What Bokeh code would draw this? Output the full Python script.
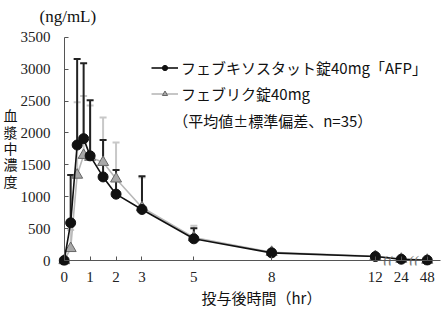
from bokeh.plotting import figure
from bokeh.models import (ColumnDataSource, Whisker, TeeHead, Legend, LegendItem,
                          Label, FixedTicker, Range1d, LinearAxis, Title)
from bokeh.core.properties import value
from bokeh.embed import file_html
from bokeh.resources import INLINE

# ---- data ----
times = [0, 0.25, 0.5, 0.75, 1, 1.5, 2, 3, 5, 8, 12, 24, 48]
afp_mean = [0, 590, 1810, 1910, 1640, 1310, 1040, 800, 340, 120, 62, 20, 5]
afp_sd = [0, 750, 1350, 1180, 870, 580, 380, 520, 165, 35, 20, 8, 3]
ref_mean = [0, 190, 1340, 1650, 1620, 1540, 1280, 830, 360, 130, 65, 22, 6]
ref_sd = [0, 290, 1140, 930, 810, 700, 570, 470, 185, 40, 20, 8, 2]
tick_times = [0, 1, 2, 3, 5, 8, 12, 24, 48]
y_ticks = [0, 500, 1000, 1500, 2000, 2500, 3000, 3500]
name_afp = "フェブキソスタット錠40mg「AFP」"
name_ref = "フェブリク錠40mg"
note = "（平均値±標準偏差、n=35）"
y_title = "血漿中濃度"
unit = "(ng/mL)"
x_title = "投与後時間（hr）"

# broken time axis: 24 h and 48 h drawn right after 12 h
broken = {24: 13, 48: 14}
def pos(t):
    return broken.get(t, t)

xpos = [pos(t) for t in times]

# ---- geometry ----
FL, FR, FT, FB = 57, 442, 30, 265
X0, KX = 62.7, 26.0        # pixel of t=0, px per hour
Y0, KY = 260.0, 223.3 / 3500
xs, xe = (FL - X0) / KX, (FR - X0) / KX
ys, ye = (Y0 - FB) / KY, (Y0 - FT) / KY
def dx(px):
    return (px - X0) / KX
def dy(py):
    return (Y0 - py) / KY

num_font = "Liberation Serif"
jp_font = "Noto Sans CJK JP"
axis_col = "#555555"
txt_col = "#111111"

p = figure(width=442, height=309, output_backend="svg", toolbar_location=None,
           x_range=Range1d(xs, xe), y_range=Range1d(ys, ye),
           min_border_left=FL, min_border_right=442 - FR,
           min_border_top=FT, min_border_bottom=309 - FB,
           outline_line_color=None, background_fill_color="white",
           title=unit)
p.grid.visible = False
p.title.align = "left"
p.title.offset = -19
p.title.standoff = 9
p.title.text_font = num_font
p.title.text_font_size = "17px"
p.title.text_font_style = "normal"
p.title.text_color = txt_col

# label-carrying axes (in the side panels, no line / ticks)
xa = p.xaxis[0]
ya = p.yaxis[0]
for ax in (xa, ya):
    ax.axis_line_color = None
    ax.major_tick_line_color = None
    ax.minor_tick_line_color = None
    ax.major_label_text_font = num_font
    ax.major_label_text_font_size = "15px"
    ax.major_label_text_color = "#222222"
    ax.axis_label_text_font = jp_font
    ax.axis_label_text_font_style = "normal"
    ax.axis_label_text_color = txt_col

xa.ticker = FixedTicker(ticks=[pos(t) for t in tick_times])
xa.major_label_overrides = {pos(t): str(t) for t in tick_times}
xa.major_label_standoff = 0

ya.ticker = FixedTicker(ticks=y_ticks)
ya.major_label_standoff = 2
ya.axis_label = "\n".join(y_title)
ya.axis_label_orientation = "horizontal"
ya.axis_label_text_font_size = "14px"
ya.axis_label_text_line_height = 0.82
ya.axis_label_standoff = 0

# axis lines through the origin (ticks inward, no labels)
def line_axis(ticks):
    ax = LinearAxis(fixed_location=0, ticker=FixedTicker(ticks=ticks),
                    axis_line_color=axis_col, major_tick_line_color=axis_col,
                    major_tick_in=4, major_tick_out=0, minor_tick_line_color=None,
                    major_label_standoff=0, major_label_text_font_size="0px",
                    major_label_overrides={t: "" for t in ticks})
    return ax

xline = line_axis([pos(t) for t in tick_times])
xline.bounds = (0, dx(440))
yline = line_axis(y_ticks)
yline.bounds = (0, 3500)
p.add_layout(xline, "below")
p.add_layout(yline, "left")

# x-axis title as a panel title below the axis
p.add_layout(Title(text=x_title, align="left", offset=200 - FL, standoff=0,
                   text_font=jp_font, text_font_size="15px",
                   text_font_style="normal", text_color=txt_col), "below")

src_afp = ColumnDataSource(dict(x=xpos, m=afp_mean,
                                up=[m + s for m, s in zip(afp_mean, afp_sd)]))
src_ref = ColumnDataSource(dict(x=xpos, m=ref_mean,
                                up=[m + s for m, s in zip(ref_mean, ref_sd)]))

gray_bar = "#c8c8c8"
black_bar = "#222222"
w_ref = Whisker(source=src_ref, base="x", lower="m", upper="up", dimension="height",
                line_color=gray_bar, line_width=2, lower_head=None,
                upper_head=TeeHead(size=7, line_color=gray_bar, line_width=2))
w_afp = Whisker(source=src_afp, base="x", lower="m", upper="up", dimension="height",
                line_color=black_bar, line_width=2, lower_head=None,
                upper_head=TeeHead(size=7, line_color=black_bar, line_width=2))
p.add_layout(w_ref)
p.add_layout(w_afp)

l_ref = p.line("x", "m", source=src_ref, line_color="#b8b8b8", line_width=1.6)
s_ref = p.scatter("x", "m", source=src_ref, marker="triangle", size=11,
                  fill_color="#a8a8a8", line_color="#666666", line_width=1)
l_afp = p.line("x", "m", source=src_afp, line_color="#111111", line_width=1.6)
s_afp = p.scatter("x", "m", source=src_afp, marker="circle", size=10,
                  fill_color="#111111", line_color="#111111")

# axis break marks between 12 and 24, and 24 and 48
brk_x = [(pos(12) + pos(24)) / 2, (pos(24) + pos(48)) / 2]
p.text(x=brk_x, y=[0, 0], text=["((", "(("], text_align="center",
       text_baseline="middle", text_font=value(num_font), text_font_size="15px",
       text_color="#777777")

legend = Legend(items=[LegendItem(label=name_afp, renderers=[l_afp, s_afp]),
                       LegendItem(label=name_ref, renderers=[l_ref, s_ref])],
                location=(150 - FL, FB - 104), glyph_width=27, glyph_height=13,
                label_height=20, spacing=5, padding=0, margin=0, label_standoff=3,
                border_line_color=None, background_fill_alpha=0,
                label_text_font=jp_font, label_text_font_size="15px",
                label_text_color=txt_col)
p.add_layout(legend)

p.add_layout(Label(x=dx(172), y=dy(120), text=note, text_font=jp_font,
                   text_font_size="15px", text_baseline="middle",
                   text_color=txt_col))

open("out.html", "w").write(file_html(p, INLINE))
